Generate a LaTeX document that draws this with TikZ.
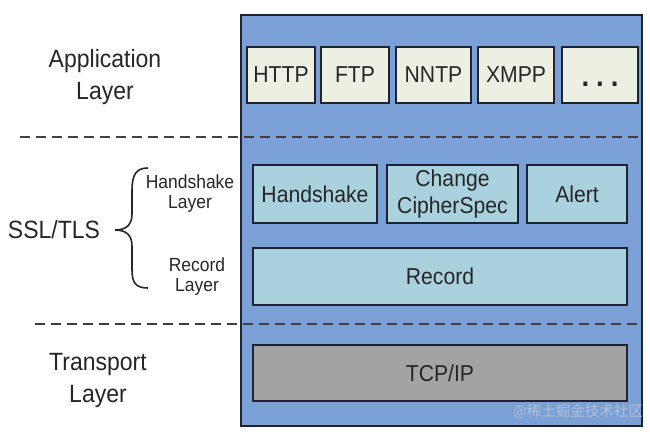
\documentclass[tikz,border=0pt]{standalone}
\usepackage{fontspec}
\setmainfont{Liberation Sans}[FakeStretch=0.92]
\newfontfamily\cjk{Noto Sans CJK SC}
\definecolor{stackblue}{HTML}{7BA0D6}
\definecolor{appfill}{HTML}{EDEFE3}
\definecolor{sslfill}{HTML}{AAD2DE}
\definecolor{tcpfill}{HTML}{A3A3A3}
\definecolor{boxline}{HTML}{1F2230}
\definecolor{txt}{HTML}{262626}

\begin{document}
\begin{tikzpicture}[x=1pt,y=-1pt,
	proto/.style={draw=boxline,line width=2.2pt,inner sep=0pt,align=center,text=txt,font=\fontsize{23}{27}\selectfont},
	app/.style={proto,fill=appfill,minimum height=56pt},
	ssl/.style={proto,fill=sslfill,minimum height=57pt},
	biglabel/.style={align=center,text=txt,font=\fontsize{25}{32}\selectfont},
	smalllabel/.style={align=center,text=txt,font=\fontsize{19}{20}\selectfont}]
			\useasboundingbox (0,0) rectangle (650,434);

			% stack background
			\draw[boxline,fill=stackblue,line width=2pt] (241,15) rectangle (642,426);

			% application layer
			\node[app,minimum width=68pt] (http) at (281,75) {HTTP};
			\node[app,minimum width=68pt] (ftp) at (355,75) {FTP};
			\node[app,minimum width=75pt] (nntp) at (433.5,75) {NNTP};
			\node[app,minimum width=76pt] (xmpp) at (516,75) {XMPP};
			\node[app,minimum width=76pt,text height=22pt,text depth=0pt,font=\fontsize{30}{30}\bfseries] (more) at (600,75) {.\hspace{7pt}.\hspace{7pt}.};

			% ssl/tls
			\node[ssl,minimum width=124pt,minimum height=58pt] (hs) at (315,194) {Handshake};
			\node[ssl,minimum width=131pt,minimum height=58pt] (ccs) at (452.5,194) {Change\\CipherSpec};
			\node[ssl,minimum width=100pt,minimum height=58pt] (alert) at (577,194) {Alert};
			\node[ssl,minimum width=374pt] (rec) at (440,276.5) {Record};

			% transport layer
			\node[proto,fill=tcpfill,minimum width=374pt,minimum height=56pt] (tcp) at (440,373) {TCP/IP};

			% layer borders
			\draw[gray!30!boxline,line width=1.5pt,dash pattern=on 10pt off 6pt] (20,137) -- (642,137);
			\draw[gray!30!boxline,line width=1.5pt,dash pattern=on 10pt off 6pt] (35,324) -- (642,324);

			% labels
			\node[biglabel] (applbl) at (105,77) {Application\\Layer};
			\node[biglabel] (tcplbl) at (98,380) {Transport\\Layer};
			\node[biglabel,anchor=base] (ssllbl) at (54,238) {SSL/TLS};
			\node[smalllabel] (hslbl) at (190,194) {Handshake\\Layer};
			\node[smalllabel] (reclbl) at (197,277) {Record\\Layer};

			% brace
			\draw[txt,line width=1.6pt] (148,168) .. controls (136,168) and (132,175) .. (132,190) -- (132,214)
				.. controls (132,225) and (126,230) .. (115,230) .. controls (126,230) and (132,235) .. (132,246)
				-- (132,270) .. controls (132,283) and (136,288) .. (148,288);

			% watermark
			\node[text=stackblue!55!white!85!gray,font=\cjk\fontsize{14.5}{15}\selectfont] (mark) at (578,412) {@稀土掘金技术社区};
		\end{tikzpicture}
\end{document}
